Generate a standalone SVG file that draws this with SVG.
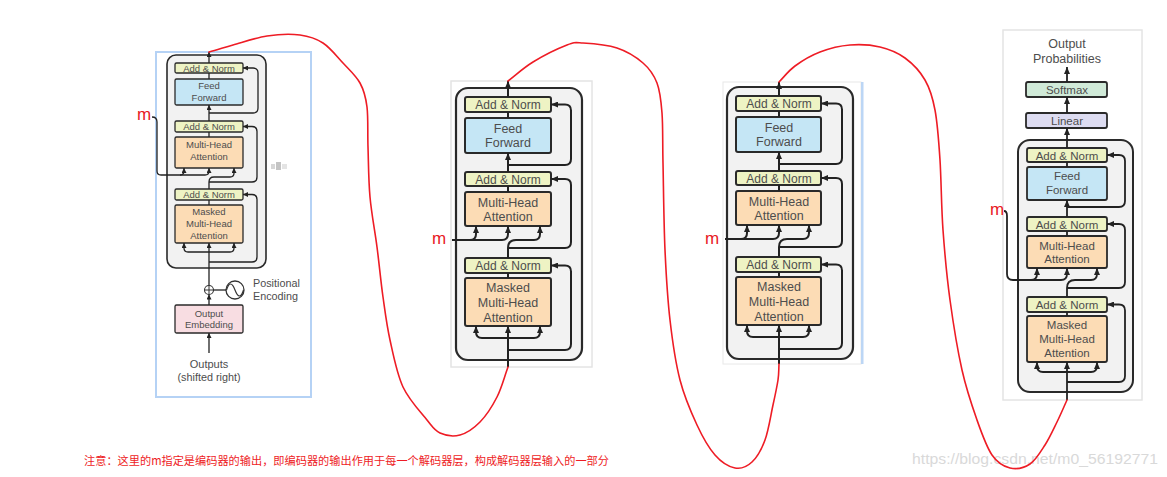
<svg xmlns="http://www.w3.org/2000/svg" width="1167" height="477" viewBox="0 0 1167 477">
<style>
.an{fill:#eef3c4;stroke:#2a2a2a}
.ff{fill:#c5e6f5;stroke:#2a2a2a}
.mha{fill:#fcdcb5;stroke:#2a2a2a}
.oe{fill:#f8dde2;stroke:#2a2a2a}
.sm{fill:#d0ead8;stroke:#2a2a2a}
.ln{fill:#dddcf1;stroke:#2a2a2a}
.blk{fill:#f2f2f2;stroke:#2a2a2a}
.t{font-family:"Liberation Sans",Arial,sans-serif;fill:#4d4d4d;text-anchor:middle}
.tl{font-family:"Liberation Sans",Arial,sans-serif;fill:#4d4d4d}
.c{fill:none;stroke:#222}
.red{fill:none;stroke:#ee1c25;stroke-width:1.6;stroke-linecap:round;stroke-linejoin:round}
.m{font-family:"Liberation Sans",Arial,sans-serif;fill:#e8191f;font-size:17px}
</style>
<defs>
<marker id="a5" markerUnits="userSpaceOnUse" markerWidth="5" markerHeight="5" refX="5" refY="2.5" orient="auto"><path d="M0,0 L5,2.5 L0,5 z" fill="#222"/></marker>
<marker id="a7" markerUnits="userSpaceOnUse" markerWidth="7" markerHeight="6" refX="7" refY="3" orient="auto"><path d="M0,0 L7,3 L0,6 z" fill="#222"/></marker>
</defs>
<rect width="1167" height="477" fill="#ffffff"/>

<!-- watermark -->
<text x="912" y="464" font-family="'Liberation Sans',Arial,sans-serif" font-size="14" fill="#d9d9d9" textLength="246" lengthAdjust="spacingAndGlyphs">https://blog.csdn.net/m0_56192771</text>

<!-- ===== Panel 1 ===== -->
<g id="panel1">
<rect x="156" y="52" width="155" height="345" fill="#fff" stroke="#b5d2f5" stroke-width="2"/>
<g fill="#d6d6d6"><rect x="271" y="164" width="4" height="5"/><rect x="276" y="162" width="5" height="8" fill="#c4c4c4"/><rect x="282" y="164" width="5" height="5" fill="#e4e4e4"/></g>
<g stroke-width="1.3">
<rect id="p1-block" class="blk" x="167" y="55" width="99" height="213" rx="9" stroke-width="1.6"/>
<g id="p1-an1"><rect class="an" x="175" y="63" width="68" height="10" rx="1.5"/><text class="t" x="209" y="72" font-size="9.5">Add &amp; Norm</text></g>
<g id="p1-ff"><rect class="ff" x="175" y="79" width="68" height="26" rx="1.5"/><text class="t" x="209" y="89" font-size="9.5">Feed</text><text class="t" x="209" y="101" font-size="9.5">Forward</text></g>
<g id="p1-an2"><rect class="an" x="175" y="121" width="68" height="11" rx="1.5"/><text class="t" x="209" y="130" font-size="9.5">Add &amp; Norm</text></g>
<g id="p1-mha"><rect class="mha" x="175" y="137" width="68" height="31" rx="1.5"/><text class="t" x="209" y="148" font-size="9.5">Multi-Head</text><text class="t" x="209" y="160" font-size="9.5">Attention</text></g>
<g id="p1-an3"><rect class="an" x="175" y="189" width="68" height="11" rx="1.5"/><text class="t" x="209" y="198" font-size="9.5">Add &amp; Norm</text></g>
<g id="p1-mmha"><rect class="mha" x="175" y="205" width="68" height="38" rx="1.5"/><text class="t" x="209" y="215" font-size="9.5">Masked</text><text class="t" x="209" y="227" font-size="9.5">Multi-Head</text><text class="t" x="209" y="238.5" font-size="9.5">Attention</text></g>
<g id="p1-oe"><rect class="oe" x="175" y="305" width="68" height="28" rx="1.5"/><text class="t" x="209" y="317" font-size="9.5">Output</text><text class="t" x="209" y="328" font-size="9.5">Embedding</text></g>
<g id="p1-plus"><circle cx="209" cy="290" r="4.5" fill="#fff" stroke="#333" stroke-width="1.1"/><path d="M205,290 H213 M209,286 V294" stroke="#333" stroke-width="1"/></g>
<g id="p1-pe"><circle cx="235" cy="290" r="9" fill="#fff" stroke="#333" stroke-width="1.3"/><path d="M226.5,290 C229,282 232,282 235,290 C238,298 241,298 243.5,290" fill="none" stroke="#333" stroke-width="1.2"/><text class="tl" x="253" y="287" font-size="10.8">Positional</text><text class="tl" x="253" y="299.5" font-size="10.8">Encoding</text></g>
<g id="p1-out"><text class="t" x="209" y="368" font-size="11">Outputs</text><text class="t" x="209" y="380.5" font-size="10.8">(shifted right)</text></g>
</g>
<g id="p1-connectors" class="c" stroke-width="1.3">
<path d="M209,63 V52" marker-end="url(#a5)"/>
<path d="M209,79 V73"/>
<path d="M209,121 V105" marker-end="url(#a5)"/>
<path d="M209,113 H253 Q258,113 258,108 V73 Q258,68 253,68 H243" marker-end="url(#a5)"/>
<path d="M209,137 V132"/>
<path d="M152,117 Q157,117 157,122 V171 Q157,175 161,175 H180 Q184,175 184,171 V168" marker-end="url(#a5)"/>
<path d="M180,175 H205 Q209,175 209,171 V168" marker-end="url(#a5)"/>
<path d="M209,189 V182 Q209,177 214,177 H230 Q234,177 234,173 V168" marker-end="url(#a5)"/>
<path d="M209,182 H252 Q257,182 257,177 V131.5 Q257,126.5 252,126.5 H243" marker-end="url(#a5)"/>
<path d="M209,205 V200"/>
<path d="M209,285.5 V243" marker-end="url(#a5)"/>
<path d="M209,252 H188 Q184,252 184,248 V243" marker-end="url(#a5)"/>
<path d="M209,252 H230 Q234,252 234,248 V243" marker-end="url(#a5)"/>
<path d="M209,262 H252 Q257,262 257,257 V199.5 Q257,194.5 252,194.5 H243" marker-end="url(#a5)"/>
<path d="M209,305 V294.5" marker-end="url(#a5)"/>
<path d="M213.5,290 H226"/>
<path d="M209,353 V333" marker-end="url(#a5)"/>
</g>
<text class="m" x="137" y="120">m</text>
</g>

<!-- ===== Panel 2 ===== -->
<g id="panel2">
<rect x="451" y="81" width="141" height="286" fill="#fff" stroke="#e4e4e4" stroke-width="1.5"/>
<g id="dec2">
<rect id="p2-block" class="blk" x="456" y="88" width="126" height="272" rx="12" stroke-width="2.2"/>
<g stroke-width="2">
<g id="p2-an1"><rect class="an" x="465" y="97" width="86" height="15" rx="2"/><text class="t" x="508" y="109" font-size="12">Add &amp; Norm</text></g>
<g id="p2-ff"><rect class="ff" x="465" y="118" width="86" height="35" rx="2"/><text class="t" x="508" y="133" font-size="12.5">Feed</text><text class="t" x="508" y="147" font-size="12.5">Forward</text></g>
<g id="p2-an2"><rect class="an" x="465" y="172" width="86" height="14" rx="2"/><text class="t" x="508" y="183.5" font-size="12">Add &amp; Norm</text></g>
<g id="p2-mha"><rect class="mha" x="465" y="192" width="86" height="34" rx="2"/><text class="t" x="508" y="207" font-size="12.5">Multi-Head</text><text class="t" x="508" y="221" font-size="12.5">Attention</text></g>
<g id="p2-an3"><rect class="an" x="465" y="258" width="86" height="15" rx="2"/><text class="t" x="508" y="269.5" font-size="12">Add &amp; Norm</text></g>
<g id="p2-mmha"><rect class="mha" x="465" y="278" width="86" height="48" rx="2"/><text class="t" x="508" y="292" font-size="12.5">Masked</text><text class="t" x="508" y="307" font-size="12.5">Multi-Head</text><text class="t" x="508" y="322" font-size="12.5">Attention</text></g>
</g>
<g id="p2-connectors" class="c" stroke-width="2">
<path d="M508,97 V81" marker-end="url(#a7)"/>
<path d="M508,118 V112"/>
<path d="M508,172 V153" marker-end="url(#a7)"/>
<path d="M508,165 H565 Q571,165 571,159 V110.5 Q571,104.5 565,104.5 H551" marker-end="url(#a7)"/>
<path d="M508,192 V186"/>
<path d="M452,240 H470 Q476,240 476,234 V226" marker-end="url(#a7)"/>
<path d="M470,240 H502 Q508,240 508,234 V226" marker-end="url(#a7)"/>
<path d="M508,258 V248 Q508,240 516,240 H534 Q540,240 540,234 V226" marker-end="url(#a7)"/>
<path d="M508,248 H565 Q571,248 571,242 V185 Q571,179 565,179 H551" marker-end="url(#a7)"/>
<path d="M508,278 V273"/>
<path d="M508,367 V326" marker-end="url(#a7)"/>
<path d="M508,338 H482 Q476,338 476,332 V326" marker-end="url(#a7)"/>
<path d="M508,338 H534 Q540,338 540,332 V326" marker-end="url(#a7)"/>
<path d="M508,350 H565 Q571,350 571,344 V271.5 Q571,265.5 565,265.5 H551" marker-end="url(#a7)"/>
</g>
</g>
<text class="m" x="432" y="244">m</text>
</g>

<!-- ===== Panel 3 ===== -->
<g id="panel3">
<rect x="723" y="82" width="138" height="282" fill="#fff" stroke="#e8e8e8" stroke-width="1"/>
<rect x="861" y="82" width="2.5" height="282" fill="#bcd6f5"/>
<g transform="translate(271,-1)">
<rect id="p3-block" class="blk" x="456" y="88" width="126" height="272" rx="12" stroke-width="2.2"/>
<g stroke-width="2">
<g id="p3-an1"><rect class="an" x="465" y="97" width="85" height="15" rx="2"/><text class="t" x="508" y="109" font-size="12">Add &amp; Norm</text></g>
<g id="p3-ff"><rect class="ff" x="465" y="118" width="85" height="35" rx="2"/><text class="t" x="508" y="133" font-size="12.5">Feed</text><text class="t" x="508" y="147" font-size="12.5">Forward</text></g>
<g id="p3-an2"><rect class="an" x="465" y="172" width="85" height="14" rx="2"/><text class="t" x="508" y="183.5" font-size="12">Add &amp; Norm</text></g>
<g id="p3-mha"><rect class="mha" x="465" y="192" width="85" height="34" rx="2"/><text class="t" x="508" y="207" font-size="12.5">Multi-Head</text><text class="t" x="508" y="221" font-size="12.5">Attention</text></g>
<g id="p3-an3"><rect class="an" x="465" y="258" width="85" height="15" rx="2"/><text class="t" x="508" y="269.5" font-size="12">Add &amp; Norm</text></g>
<g id="p3-mmha"><rect class="mha" x="465" y="278" width="85" height="48" rx="2"/><text class="t" x="508" y="292" font-size="12.5">Masked</text><text class="t" x="508" y="307" font-size="12.5">Multi-Head</text><text class="t" x="508" y="322" font-size="12.5">Attention</text></g>
</g>
<g id="p3-connectors" class="c" stroke-width="2">
<path d="M508,97 V83" marker-end="url(#a7)"/>
<path d="M508,118 V112"/>
<path d="M508,172 V153" marker-end="url(#a7)"/>
<path d="M508,165 H565 Q571,165 571,159 V110.5 Q571,104.5 565,104.5 H550" marker-end="url(#a7)"/>
<path d="M508,192 V186"/>
<path d="M454,240 H470 Q476,240 476,234 V226" marker-end="url(#a7)"/>
<path d="M470,240 H502 Q508,240 508,234 V226" marker-end="url(#a7)"/>
<path d="M508,258 V248 Q508,240 516,240 H532 Q538,240 538,234 V226" marker-end="url(#a7)"/>
<path d="M508,248 H565 Q571,248 571,242 V185 Q571,179 565,179 H550" marker-end="url(#a7)"/>
<path d="M508,278 V273"/>
<path d="M508,365 V326" marker-end="url(#a7)"/>
<path d="M508,338 H482 Q476,338 476,332 V326" marker-end="url(#a7)"/>
<path d="M508,338 H532 Q538,338 538,332 V326" marker-end="url(#a7)"/>
<path d="M508,350 H565 Q571,350 571,344 V271.5 Q571,265.5 565,265.5 H550" marker-end="url(#a7)"/>
</g>
</g>
<text class="m" x="705" y="244">m</text>
</g>

<!-- ===== Panel 4 ===== -->
<g id="panel4">
<rect x="1003" y="30" width="139" height="370" fill="#fff" stroke="#e4e4e4" stroke-width="1.5"/>
<g id="p4-outprob"><text class="t" x="1067" y="48" font-size="12.5">Output</text><text class="t" x="1067" y="63" font-size="12.5">Probabilities</text></g>
<rect id="p4-block" class="blk" x="1018" y="140" width="115" height="252" rx="12" stroke-width="2"/>
<g stroke-width="1.8">
<g id="p4-softmax"><rect class="sm" x="1026" y="82" width="81" height="15" rx="2"/><text class="t" x="1067" y="94" font-size="11.5">Softmax</text></g>
<g id="p4-linear"><rect class="ln" x="1026" y="113" width="81" height="15" rx="2"/><text class="t" x="1067" y="125" font-size="11.5">Linear</text></g>
<g id="p4-an1"><rect class="an" x="1027" y="148" width="80" height="14" rx="2"/><text class="t" x="1067" y="159.5" font-size="11.5">Add &amp; Norm</text></g>
<g id="p4-ff"><rect class="ff" x="1027" y="167" width="80" height="33" rx="2"/><text class="t" x="1067" y="180" font-size="11.5">Feed</text><text class="t" x="1067" y="194" font-size="11.5">Forward</text></g>
<g id="p4-an2"><rect class="an" x="1027" y="217" width="80" height="14" rx="2"/><text class="t" x="1067" y="228.5" font-size="11.5">Add &amp; Norm</text></g>
<g id="p4-mha"><rect class="mha" x="1027" y="236" width="80" height="32" rx="2"/><text class="t" x="1067" y="250" font-size="11.5">Multi-Head</text><text class="t" x="1067" y="263" font-size="11.5">Attention</text></g>
<g id="p4-an3"><rect class="an" x="1027" y="297" width="80" height="15" rx="2"/><text class="t" x="1067" y="309" font-size="11.5">Add &amp; Norm</text></g>
<g id="p4-mmha"><rect class="mha" x="1027" y="316" width="80" height="46" rx="2"/><text class="t" x="1067" y="328.5" font-size="11.5">Masked</text><text class="t" x="1067" y="343" font-size="11.5">Multi-Head</text><text class="t" x="1067" y="357" font-size="11.5">Attention</text></g>
</g>
<g id="p4-connectors" class="c" stroke-width="1.8">
<path d="M1067,82 V67" marker-end="url(#a7)"/>
<path d="M1067,113 V97" marker-end="url(#a7)"/>
<path d="M1067,148 V128" marker-end="url(#a7)"/>
<path d="M1067,167 V162"/>
<path d="M1067,217 V200" marker-end="url(#a7)"/>
<path d="M1067,207 H1119 Q1125,207 1125,201 V161 Q1125,155 1119,155 H1107" marker-end="url(#a7)"/>
<path d="M1067,236 V231"/>
<path d="M1004,211 Q1007,211 1007,216 V274 Q1007,280 1013,280 H1031 Q1037,280 1037,274 V268" marker-end="url(#a7)"/>
<path d="M1031,280 H1061 Q1067,280 1067,274 V268" marker-end="url(#a7)"/>
<path d="M1067,297 V288 Q1067,280 1075,280 H1091 Q1097,280 1097,274 V268" marker-end="url(#a7)"/>
<path d="M1067,288 H1119 Q1125,288 1125,282 V230 Q1125,224 1119,224 H1107" marker-end="url(#a7)"/>
<path d="M1067,316 V312"/>
<path d="M1067,400 V362" marker-end="url(#a7)"/>
<path d="M1067,372 H1043 Q1037,372 1037,366 V362" marker-end="url(#a7)"/>
<path d="M1067,372 H1091 Q1097,372 1097,366 V362" marker-end="url(#a7)"/>
<path d="M1067,382 H1119 Q1125,382 1125,376 V310.5 Q1125,304.5 1119,304.5 H1107" marker-end="url(#a7)"/>
</g>
<text class="m" x="990" y="215">m</text>
</g>

<!-- ===== Red hand-drawn links ===== -->
<g id="red-links">
<path class="red" d="M209,52 C217,50 223.3,47.7 233,45 S255.8,37.7 267,36 S290.7,33.8 300,35 S315.8,38.3 323,43 S336.8,56.3 343,63 S356,75.7 360,83 S365.7,96.3 367,107 S367.5,132 368,147 S368.5,180.3 370,197 S374.8,230.3 377,247 S380.8,281.5 383,297 S386.7,325 390,340 S396.8,373.7 403,387 S420.8,412.3 427,420 S434.5,430.5 440,433 S453.3,436.8 460,435 S473.8,428.3 480,422 S492.3,406.2 497,397 S504.3,377 508,367"/>
<path class="red" d="M508,81 C516.3,74.7 523.2,68 533,62 S558.7,48.2 567,45 S574.7,42.5 583,43 S607,44.7 617,48 S636.3,57.2 643,63 S653.8,74.7 657,83 S661,99.7 662,113 S662.5,140.2 663,163 S663.8,223.8 665,250 S667.5,298.3 670,320 S675.5,362.5 680,380 S691.2,412.5 697,425 S708.7,447.8 715,455 S728.8,466.8 735,468 S747,466.7 752,462 S761.5,449.5 765,440 S770.8,415 773,405 S777,386.8 778,380 S778.7,369.3 779,364"/>
<path class="red" d="M779,82 C784.3,76.7 788.2,71 795,66 S810.8,55.5 820,52 S840,45.8 850,45 S870.8,44.8 880,47 S897.5,52.5 905,58 S920,71.3 925,80 S932.5,96.7 935,110 S938.7,140 940,160 S941.3,206.7 943,230 S946.8,276.7 950,300 S957.5,350 962,370 S972,405.8 977,420 S986.5,447 992,455 S1003.7,466.5 1010,468 S1024.2,467.8 1030,464 S1040.5,452 1045,445 S1053.3,429.5 1057,422 S1063.7,407.3 1067,400"/>
</g>

<text id="note" x="84" y="465" font-family="'Noto Sans CJK SC','Liberation Sans',sans-serif" font-size="11.2" fill="#ee1c25" textLength="525" lengthAdjust="spacingAndGlyphs">注意：这里的m指定是编码器的输出，即编码器的输出作用于每一个解码器层，构成解码器层输入的一部分</text>
</svg>
